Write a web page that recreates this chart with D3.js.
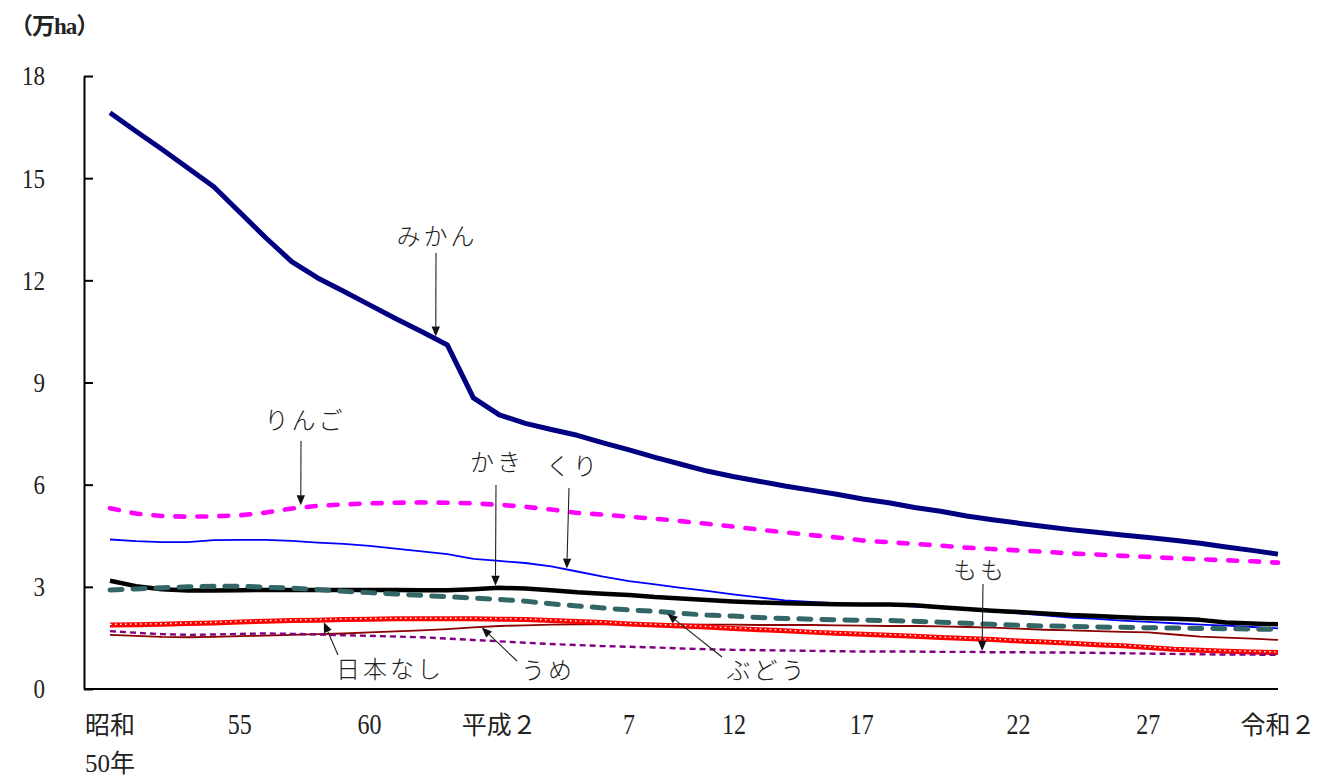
<!DOCTYPE html>
<html lang="ja">
<head>
<meta charset="utf-8">
<script src="https://cdn.jsdelivr.net/npm/d3@7"></script>
<style>
  html, body { margin: 0; padding: 0; background: #fff; }
  svg { display: block; }
  text { font-family: 'Liberation Serif', 'Noto Sans CJK JP', serif; fill: #222; }
</style>
</head>
<body>
<svg id="chart" width="1319" height="778"></svg>
<script>
// 果樹の栽培面積の推移（万ha）, 昭和50年〜令和2年
const years = d3.range(1975, 2021);

const mikan = [16.92, 16.38, 15.85, 15.30, 14.75, 14.00, 13.25, 12.55, 12.07, 11.68,
               11.28, 10.88, 10.50, 10.10, 8.55, 8.05, 7.80, 7.62, 7.45, 7.23,
               7.02, 6.80, 6.60, 6.40, 6.24, 6.10, 5.96, 5.84, 5.72, 5.58,
               5.47, 5.33, 5.22, 5.08, 4.97, 4.87, 4.77, 4.68, 4.60, 4.52,
               4.45, 4.37, 4.28, 4.17, 4.07, 3.96];
const ringo = [5.31, 5.15, 5.08, 5.06, 5.07, 5.10, 5.18, 5.30, 5.38, 5.42,
               5.45, 5.47, 5.48, 5.47, 5.45, 5.41, 5.35, 5.27, 5.17, 5.12,
               5.06, 5.00, 4.93, 4.85, 4.77, 4.68, 4.60, 4.52, 4.45, 4.36,
               4.31, 4.26, 4.21, 4.15, 4.11, 4.07, 4.03, 3.98, 3.95, 3.91,
               3.88, 3.84, 3.81, 3.78, 3.75, 3.71];
const kaki  = [3.18, 3.02, 2.93, 2.89, 2.89, 2.90, 2.91, 2.91, 2.91, 2.91,
               2.91, 2.91, 2.90, 2.90, 2.93, 2.97, 2.95, 2.90, 2.84, 2.80,
               2.76, 2.70, 2.66, 2.61, 2.57, 2.54, 2.52, 2.50, 2.49, 2.48,
               2.48, 2.46, 2.40, 2.35, 2.30, 2.26, 2.22, 2.17, 2.14, 2.11,
               2.08, 2.06, 2.03, 1.95, 1.92, 1.90];
const kuri  = [4.39, 4.34, 4.31, 4.31, 4.37, 4.38, 4.38, 4.35, 4.30, 4.26,
               4.20, 4.12, 4.04, 3.96, 3.82, 3.76, 3.70, 3.60, 3.45, 3.30,
               3.17, 3.07, 2.97, 2.88, 2.78, 2.69, 2.60, 2.56, 2.52, 2.49,
               2.46, 2.42, 2.38, 2.33, 2.27, 2.22, 2.16, 2.10, 2.06, 2.01,
               1.97, 1.93, 1.89, 1.86, 1.82, 1.78];
const budou = [2.91, 2.94, 2.97, 3.00, 3.02, 3.02, 2.99, 2.96, 2.92, 2.87,
               2.83, 2.79, 2.75, 2.71, 2.67, 2.63, 2.58, 2.50, 2.44, 2.38,
               2.32, 2.28, 2.22, 2.17, 2.14, 2.10, 2.07, 2.05, 2.03, 2.02,
               2.01, 1.99, 1.96, 1.93, 1.90, 1.87, 1.85, 1.84, 1.82, 1.81,
               1.80, 1.79, 1.78, 1.77, 1.76, 1.75];
const nashi = [1.88, 1.89, 1.90, 1.92, 1.94, 1.97, 1.99, 2.01, 2.02, 2.04,
               2.05, 2.06, 2.06, 2.06, 2.06, 2.05, 2.04, 2.01, 1.98, 1.95,
               1.91, 1.88, 1.85, 1.82, 1.78, 1.74, 1.71, 1.67, 1.64, 1.61,
               1.58, 1.55, 1.51, 1.48, 1.45, 1.41, 1.38, 1.34, 1.30, 1.27,
               1.22, 1.17, 1.14, 1.11, 1.09, 1.07];
const ume   = [1.59, 1.56, 1.53, 1.52, 1.53, 1.55, 1.57, 1.59, 1.61, 1.63,
               1.66, 1.69, 1.72, 1.76, 1.81, 1.85, 1.87, 1.89, 1.90, 1.90,
               1.90, 1.90, 1.90, 1.89, 1.89, 1.88, 1.88, 1.88, 1.87, 1.86,
               1.85, 1.85, 1.84, 1.82, 1.80, 1.77, 1.74, 1.72, 1.70, 1.68,
               1.66, 1.60, 1.54, 1.51, 1.48, 1.44];
const momo  = [1.70, 1.65, 1.61, 1.59, 1.60, 1.62, 1.63, 1.62, 1.60, 1.58,
               1.56, 1.54, 1.52, 1.48, 1.44, 1.40, 1.36, 1.32, 1.29, 1.26,
               1.24, 1.22, 1.19, 1.17, 1.15, 1.14, 1.13, 1.12, 1.11, 1.10,
               1.10, 1.10, 1.09, 1.09, 1.08, 1.08, 1.07, 1.07, 1.06, 1.05,
               1.04, 1.03, 1.02, 1.01, 1.01, 1.00];

const yTicks = [0, 3, 6, 9, 12, 15, 18];
const xTickYears = [1975, 1980, 1985, 1990, 1995, 2000, 2005, 2010, 2015, 2020];
const xTickLabels = [["昭和", "50年"], ["55"], ["60"], ["平成２"], ["7"], ["12"], ["17"], ["22"], ["27"], ["令和２"]];

// ---- layout ----
const svg = d3.select("#chart");
const axisX0 = 84;
const x = d3.scaleLinear().domain([1975, 2020]).range([110, 1278]);
const y = d3.scaleLinear().domain([0, 18]).range([689, 76]);
// a couple of year labels sit a little left of their tick year
const labelNudge = { 2000: -25, 2005: -27 };

// drawing order and line styles
const series = [
  { key: "kuri",  values: kuri,  color: "#0000ff", width: 1.8 },
  { key: "kaki",  values: kaki,  color: "#000000", width: 4.5 },
  { key: "ume",   values: ume,   color: "#8b0000", width: 1.8 },
  { key: "nashi", values: nashi, color: "#ff0000", width: 5, dots: true },
  { key: "momo",  values: momo,  color: "#800080", width: 2.4, dash: "6 4" },
  { key: "budou", values: budou, color: "#336666", width: 5, dash: "12 11", cap: "round" },
  { key: "ringo", values: ringo, color: "#ff00ff", width: 4.6, dash: "9 13", cap: "round" },
  { key: "mikan", values: mikan, color: "#000080", width: 5 }
];
const byKey = Object.fromEntries(series.map(s => [s.key, s]));

// ---- axes ----
const yAxis = d3.axisLeft(y).tickValues(yTicks).tickSizeInner(-9).tickSizeOuter(0).tickPadding(39);
const gy = svg.append("g").attr("transform", `translate(${axisX0},0)`).call(yAxis);
gy.select(".domain").attr("stroke", "#000").attr("stroke-width", 2);
gy.selectAll(".tick line").attr("stroke", "#000").attr("stroke-width", 2);
gy.selectAll(".tick text")
  .attr("font-size", 23).attr("fill", "#222")
  .attr("font-family", "'Liberation Serif', serif")
  .attr("transform", "scale(1,1.22)");

svg.append("line")
  .attr("x1", axisX0).attr("x2", x(2020))
  .attr("y1", y(0)).attr("y2", y(0))
  .attr("stroke", "#000").attr("stroke-width", 2);

const xl = svg.append("g");
xTickYears.forEach((yr, i) => {
  const cx = x(yr) + (labelNudge[yr] || 0);
  xTickLabels[i].forEach((line, j) => {
    const numeric = /^[0-9]+$/.test(line);
    xl.append("text")
      .attr("text-anchor", "middle")
      .attr("font-size", numeric ? 24 : 25)
      .attr("transform", `translate(${cx},${734 + j * 38})` + (numeric ? " scale(1,1.22)" : ""))
      .text(line);
  });
});

svg.append("text")
  .attr("x", 10).attr("y", 34)
  .attr("font-size", 23)
  .attr("font-family", "'Noto Sans CJK JP', sans-serif")
  .attr("font-weight", 700)
  .attr("letter-spacing", -1)
  .attr("fill", "#333")
  .text("（万ha）");

// ---- lines ----
const line = d3.line()
  .x((d, i) => x(years[i]))
  .y(d => y(d));

const gl = svg.append("g");
series.forEach(s => {
  gl.append("path")
    .attr("d", line(s.values))
    .attr("fill", "none")
    .attr("stroke", s.color)
    .attr("stroke-width", s.width)
    .attr("stroke-linecap", s.cap || "butt")
    .attr("stroke-linejoin", "round")
    .attr("stroke-dasharray", s.dash || null);
  if (s.dots) {
    gl.append("path")
      .attr("d", line(s.values))
      .attr("fill", "none")
      .attr("stroke", "#fff")
      .attr("stroke-width", 1.4)
      .attr("stroke-dasharray", "1.6 3.4")
      .attr("transform", "translate(0,-0.6)");
  }
});

// ---- annotations (label, series pointed at, year of the arrow tip, label centre, arrow tail) ----
function valueAt(values, yr) {
  const t = yr - years[0];
  const i = Math.min(Math.floor(t), values.length - 2);
  const f = t - i;
  return values[i] * (1 - f) + values[i + 1] * f;
}

const notes = [
  { text: "みかん",   key: "mikan", year: 1987.55, lx: 437, ly: 237, tail: [436, 253] },
  { text: "りんご",   key: "ringo", year: 1982.35, lx: 305, ly: 421, tail: [301, 441] },
  { text: "かき",     key: "kaki",  year: 1989.85, lx: 497, ly: 463, tail: [496, 485] },
  { text: "くり",     key: "kuri",  year: 1992.6,  lx: 573, ly: 467, tail: [569, 488] },
  { text: "もも",     key: "momo",  year: 2008.6,  lx: 980, ly: 571, tail: [983, 584] },
  { text: "日本なし", key: "nashi", year: 1983.2,  lx: 390, ly: 670, tail: [338, 655] },
  { text: "うめ",     key: "ume",   year: 1989.3,  lx: 548, ly: 671, tail: [517, 661] },
  { text: "ぶどう",   key: "budou", year: 1996.4,  lx: 767, ly: 671, tail: [722, 657] }
];

const ga = svg.append("g");
notes.forEach(n => {
  const s = byKey[n.key];
  const px = x(n.year), py = y(valueAt(s.values, n.year));
  const [sx, sy] = n.tail;
  const dx = px - sx, dy = py - sy;
  const len = Math.hypot(dx, dy);
  const ux = dx / len, uy = dy / len;
  const tx = px - ux * s.width / 2, ty = py - uy * s.width / 2;
  const head = 10, half = 4.2;
  const bx = tx - ux * head, by = ty - uy * head;
  ga.append("line")
    .attr("x1", sx).attr("y1", sy).attr("x2", bx).attr("y2", by)
    .attr("stroke", "#222").attr("stroke-width", 1.1);
  ga.append("path")
    .attr("d", `M${tx},${ty}L${bx - uy * half},${by + ux * half}L${bx + uy * half},${by - ux * half}Z`)
    .attr("fill", "#111");
  ga.append("text")
    .attr("x", n.lx).attr("y", n.ly)
    .attr("text-anchor", "middle")
    .attr("dominant-baseline", "central")
    .attr("font-size", 24)
    .attr("letter-spacing", 3)
    .attr("font-family", "'Noto Sans CJK JP', sans-serif")
    .attr("font-weight", 300)
    .attr("fill", "#222")
    .text(n.text);
});
</script>
</body>
</html>
